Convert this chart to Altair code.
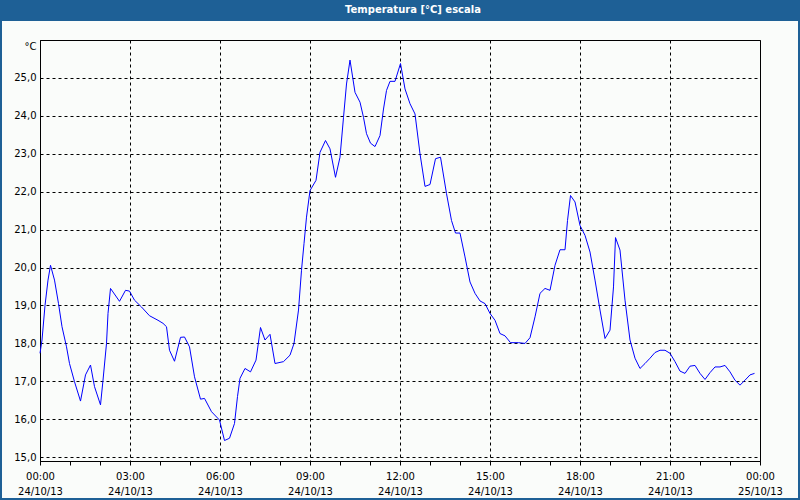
import altair as alt
import pandas as pd

# minutes after 24/10/13 00:00 and temperature readings (°C)
minutes = [0, 4, 10, 16, 21, 29, 37, 44, 53, 59, 69, 81, 91, 101, 109, 121, 126, 133, 136, 141,
           159, 171, 179, 189, 203, 219, 236, 246, 253, 259, 269, 281, 289, 299, 309, 321, 329,
           343, 359, 369, 379, 389, 395, 400, 410, 421, 432, 441, 450, 460, 470, 487, 500, 508,
           517, 523, 528, 533, 540, 552, 560, 571, 580, 591, 600, 607, 613, 620, 630, 640, 647,
           653, 661, 670, 680, 687, 693, 700, 710, 721, 730, 740, 750, 760, 770, 780, 791, 801,
           813, 823, 831, 840, 850, 860, 870, 880, 890, 900, 910, 920, 930, 941, 957, 970, 980,
           990, 1000, 1010, 1020, 1030, 1040, 1050, 1055, 1061, 1070, 1080, 1090, 1100, 1110,
           1120, 1130, 1140, 1147, 1151, 1160, 1170, 1180, 1190, 1200, 1210, 1220, 1230, 1240,
           1250, 1260, 1270, 1280, 1290, 1300, 1310, 1320, 1330, 1340, 1350, 1360, 1370, 1380,
           1390, 1400, 1410, 1420, 1429]
temps = [17.74, 18.09, 19.0, 19.67, 20.06, 19.67, 19.05, 18.44, 17.91, 17.47, 16.99, 16.48, 17.17,
         17.43, 16.86, 16.38, 17.03, 18.0, 18.79, 19.45, 19.11, 19.40, 19.38, 19.14, 18.96, 18.73,
         18.61, 18.53, 18.44, 17.82, 17.53, 18.16, 18.17, 17.91, 17.12, 16.53, 16.55, 16.20, 15.98,
         15.44, 15.50, 15.89, 16.60, 17.08, 17.34, 17.25, 17.56, 18.42, 18.09, 18.24, 17.47, 17.52,
         17.69, 18.0, 18.88, 19.93, 20.63, 21.33, 22.03, 22.30, 23.04, 23.35, 23.13, 22.38, 22.91,
         23.96, 24.84, 25.47, 24.62, 24.36, 23.96, 23.53, 23.28, 23.19, 23.48, 24.18, 24.67, 24.91,
         24.91, 25.38, 24.71, 24.32, 24.05, 23.0, 22.14, 22.19, 22.87, 22.91, 21.95, 21.24, 20.91,
         20.91, 20.28, 19.62, 19.32, 19.12, 19.05, 18.79, 18.61, 18.26, 18.20, 18.02, 18.02, 18.0,
         18.15, 18.70, 19.32, 19.45, 19.40, 20.06, 20.47, 20.47, 21.24, 21.90, 21.73, 21.11, 20.85,
         20.41, 19.67, 18.88, 18.13, 18.35, 19.49, 20.79, 20.46, 19.14, 18.09, 17.61, 17.34, 17.47,
         17.61, 17.76, 17.82, 17.82, 17.74, 17.52, 17.27, 17.21, 17.40, 17.42, 17.21, 17.05, 17.23,
         17.38, 17.38, 17.42, 17.25, 17.03, 16.90, 17.03, 17.17, 17.21]
y_ticks = [15, 16, 17, 18, 19, 20, 21, 22, 23, 24, 25]
title_text = "Temperatura [°C] escala"
unit_text = "°C"

start = pd.Timestamp("2013-10-24T00:00:00Z")
times = [(start + pd.Timedelta(minutes=m)).strftime("%Y-%m-%dT%H:%M:%SZ") for m in minutes]
df = pd.DataFrame({"t": times, "temp": temps})
hour_ms = [int((start + pd.Timedelta(hours=h)).value // 10**6) for h in range(25)]

FONT = "DejaVu Sans"
BAND = "#1e6096"

x_axis = alt.Axis(
    values=hour_ms,
    labelExpr="utchours(datum.value) % 3 == 0 ? [utcFormat(datum.value, '%H:%M'), utcFormat(datum.value, '%d/%m/%y')] : ''",
    labelOverlap=False, labelFlush=False, labelFont=FONT, labelFontSize=10, labelColor="black",
    labelLineHeight=15, labelPadding=6, tickSize=4, tickColor="black", domainColor="black",
    grid=True, gridColor="black", gridDash=[3, 3], gridWidth=1,
    gridOpacity={"condition": {"test": "utchours(datum.value) % 3 == 0", "value": 1}, "value": 0},
    title=None,
)
y_axis = alt.Axis(
    values=y_ticks,
    labelExpr="replace(format(datum.value, '.1f'), '.', ',')",
    labelFont=FONT, labelFontSize=10, labelColor="black", labelPadding=4, ticks=False,
    domainColor="black", grid=True, gridColor="black", gridDash=[3, 3], gridWidth=1,
    title=unit_text, titleAngle=0, titleX=-4, titleY=6, titleAlign="right",
    titleBaseline="middle", titleFont=FONT, titleFontSize=10, titleFontWeight="normal",
    titleColor="black",
)

line = alt.Chart(df).mark_line(color="#0000ff", strokeWidth=1).encode(
    x=alt.X("t:T", scale=alt.Scale(type="utc", domain=[hour_ms[0], hour_ms[-1]]), axis=x_axis),
    y=alt.Y("temp:Q", scale=alt.Scale(domain=[14.9, 26.0], nice=False, zero=False), axis=y_axis),
)

one = alt.Data(values=[{}])
band = alt.Chart(one).mark_rect(color=BAND).encode(
    x=alt.value(-40), x2=alt.value(760), y=alt.value(-40), y2=alt.value(-19))
left_b = alt.Chart(one).mark_rect(color=BAND).encode(
    x=alt.value(-40), x2=alt.value(-38), y=alt.value(-40), y2=alt.value(460))
right_b = alt.Chart(one).mark_rect(color=BAND).encode(
    x=alt.value(758), x2=alt.value(760), y=alt.value(-40), y2=alt.value(460))
bottom_b = alt.Chart(one).mark_rect(color=BAND).encode(
    x=alt.value(-40), x2=alt.value(760), y=alt.value(458), y2=alt.value(460))
title = alt.Chart(one).mark_text(color="white", font=FONT, fontSize=10, fontWeight="bold",
                                 align="center", baseline="middle").encode(
    x=alt.value(373), y=alt.value(-30), text=alt.value(title_text))

chart = alt.layer(line, band, left_b, right_b, bottom_b, title).properties(
    width=720, height=421,
    autosize=alt.AutoSizeParams(type="none"),
    padding={"left": 40, "top": 40, "right": 40, "bottom": 39},
).configure(background="#fafcfa").configure_view(stroke="black", strokeWidth=1)

chart.save("out.html", embed_options={"renderer": "svg", "actions": False})
